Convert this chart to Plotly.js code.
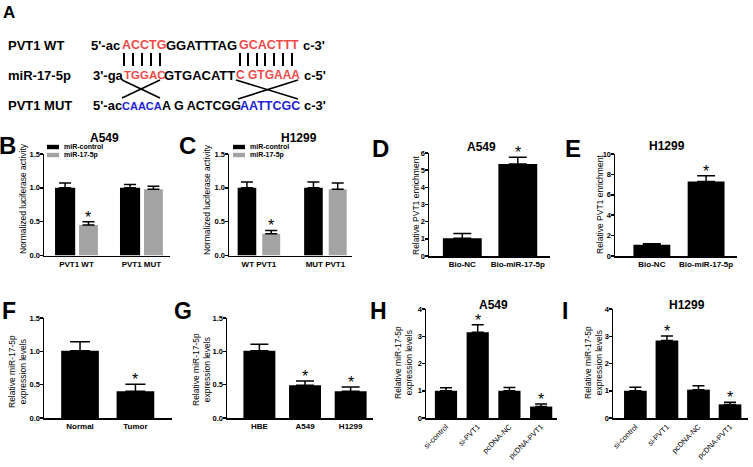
<!DOCTYPE html>
<html><head><meta charset="utf-8">
<script src="https://cdn.plot.ly/plotly-3.0.1.min.js"></script>
<style>html,body{margin:0;padding:0;background:#fff}</style>
</head><body><div id="chart" style="width:753px;height:467px"></div>
<script>
// ---------------- data ----------------
const lucSeries = ['miR-control', 'miR-17-5p'];
const bCats = ['PVT1 WT', 'PVT1 MUT'];
const bCtrl = [1.0, 1.0];   const bCtrlErr = [0.07, 0.05];
const bMir  = [0.45, 0.98]; const bMirErr  = [0.05, 0.045];
const bMirSig = [true, false];
const cCats = ['WT PVT1', 'MUT PVT1'];
const cCtrl = [1.0, 1.0];   const cCtrlErr = [0.085, 0.085];
const cMir  = [0.32, 0.98]; const cMirErr  = [0.05, 0.09];
const cMirSig = [true, false];
const dCats = ['Bio-NC', 'Bio-miR-17-5p']; const dVals = [1.03, 5.36]; const dErr = [0.28, 0.39]; const dSig = [false, true];
const eCats = ['Bio-NC', 'Bio-miR-17-5p']; const eVals = [1.1, 7.3];   const eErr = [0.1, 0.57];  const eSig = [false, true];
const fCats = ['Normal', 'Tumor']; const fVals = [1.01, 0.4]; const fErr = [0.135, 0.105]; const fSig = [false, true];
const gCats = ['HBE', 'A549', 'H1299']; const gVals = [1.01, 0.49, 0.4]; const gErr = [0.095, 0.065, 0.065]; const gSig = [false, true, true];
const hCats = ['si-control', 'si-PVT1', 'pcDNA-NC', 'pcDNA-PVT1'];
const hVals = [1.0, 3.15, 1.0, 0.42]; const hErr = [0.11, 0.27, 0.12, 0.09]; const hSig = [false, true, false, true];
const iCats = ['si-control', 'si-PVT1', 'pcDNA-NC', 'pcDNA-PVT1'];
const iVals = [1.0, 2.84, 1.04, 0.5]; const iErr = [0.13, 0.17, 0.14, 0.08]; const iSig = [false, true, false, true];

// panel A sequence rows: [text, color key]
const rowLabels = ['PVT1 WT', 'miR-17-5p', 'PVT1 MUT'];
const seqWT  = [["5'-ac", 'k'], ['ACCTG', 'r'], ['GGATTTAG', 'k'], ['GCACTTT', 'r'], ["c-3'", 'k']];
const seqMiR = [["3'-ga", 'k'], ['TGGAC', 'r'], ['GTGACATT', 'k'], ['C GTGAAA', 'r'], ["c-5'", 'k']];
const seqMUT = [["5'-ac", 'k'], ['CAACA', 'b'], ['A G ACTCGG', 'k'], ['AATTCGC', 'b'], ["c-3'", 'k']];

// ---------------- layout helpers ----------------
const W = 753, H = 467;
const px = x => x / W;
const py = y => 1 - y / H;
const FONT = 'Liberation Sans, Arial, sans-serif';
const BLACK = '#000000', GRAY = '#a3a3a3', RED = '#ef4b4b', BLUE = '#1f1fd6';
const colorOf = {k: BLACK, r: RED, b: BLUE};

const traces = [];
const layout = {
  width: W, height: H, margin: {l: 0, r: 0, t: 0, b: 0},
  paper_bgcolor: '#fff', plot_bgcolor: 'rgba(0,0,0,0)',
  showlegend: false, barmode: 'overlay',
  annotations: [], shapes: [], font: {family: FONT, color: BLACK}
};

function zeros(a) { return a.map(() => 0); }

function addPanel(n, cfg) {
  const xn = n === 1 ? 'x' : 'x' + n, yn = n === 1 ? 'y' : 'y' + n;
  const xk = n === 1 ? 'xaxis' : 'xaxis' + n, yk = n === 1 ? 'yaxis' : 'yaxis' + n;
  layout[xk] = {
    domain: [px(cfg.xd[0]), px(cfg.xd[1])], anchor: yn, type: 'category',
    range: cfg.xr, showline: true, linecolor: BLACK, linewidth: 1.5, ticks: '',
    showgrid: false, zeroline: false, fixedrange: true,
    tickangle: cfg.tickangle || 0,
    tickfont: {family: FONT, size: cfg.xfs || 8, color: BLACK, weight: cfg.xweight || 'bold'}
  };
  layout[yk] = {
    domain: [py(cfg.yd[1]), py(cfg.yd[0])], anchor: xn, range: cfg.yr,
    dtick: cfg.dtick, tick0: 0, tickformat: cfg.tf, showline: true, linecolor: BLACK, linewidth: 1.5,
    ticks: 'outside', ticklen: 3, tickwidth: 1.5, tickcolor: BLACK, showgrid: false, zeroline: false,
    ticklabelstandoff: -2,
    fixedrange: true, tickfont: {family: FONT, size: 7.5, color: BLACK, weight: 'bold'}
  };
  // y-axis title placed as rotated text beside the axis
  layout.annotations.push({xref: 'paper', yref: 'paper', x: px(cfg.yt[0]), y: py(cfg.yt[1]),
    text: cfg.ytitle, textangle: -90, showarrow: false, xanchor: 'center', yanchor: 'middle',
    font: {family: FONT, size: 8.5, color: BLACK}});
  cfg.series.forEach(s => {
    traces.push({
      type: 'bar', x: s.cats, y: s.vals, xaxis: xn, yaxis: yn, name: s.name,
      width: s.width, offset: s.offset,
      marker: {color: s.color, line: {width: 0}},
      error_y: {type: 'data', symmetric: false, array: s.err, arrayminus: zeros(s.err),
                color: BLACK, thickness: 1.5, width: cfg.capw || 6},
      hoverinfo: 'skip'
    });
    s.sig.forEach((on, i) => {
      if (!on) return;
      const off = (s.offset === undefined ? -s.width / 2 : s.offset) + s.width / 2;
      layout.annotations.push({xref: xn, yref: yn, x: i + off, y: s.vals[i] + s.err[i],
        text: '*', showarrow: false, yanchor: 'bottom', yshift: -6,
        font: {family: FONT, size: 16, color: BLACK}});
    });
  });
  if (cfg.title) {
    layout.annotations.push({xref: 'paper', yref: 'paper', x: px(cfg.title[1]), y: py(cfg.title[2]),
      text: '<b>' + cfg.title[0] + '</b>', showarrow: false, xanchor: 'center', yanchor: 'middle',
      font: {family: FONT, size: 12, color: BLACK}});
  }
}

// ---------------- panels ----------------
const lucTitle = 'Normalized luciferase activity';
const enrTitle = 'Relative PVT1 enrichment';
const expTitle = 'Relative miR-17-5p<br>expression levels';

addPanel(1, {xd: [44, 170], yd: [154, 255.5], xr: [-0.5, 1.44], yr: [0, 1.5], dtick: 0.5, tf: '.1f',
  ytitle: lucTitle, yt: [23, 199], title: ['A549', 105, 138], capw: 6,
  series: [
    {cats: bCats, vals: bCtrl, err: bCtrlErr, name: lucSeries[0], color: BLACK, width: 0.31, offset: -0.33, sig: [false, false]},
    {cats: bCats, vals: bMir, err: bMirErr, name: lucSeries[1], color: GRAY, width: 0.29, offset: 0.04, sig: bMirSig}
  ]});
addPanel(2, {xd: [229, 352], yd: [154, 255.5], xr: [-0.45, 1.4], yr: [0, 1.5], dtick: 0.5, tf: '.1f',
  ytitle: lucTitle, yt: [207, 199], title: ['H1299', 299, 138], capw: 6,
  series: [
    {cats: cCats, vals: cCtrl, err: cCtrlErr, name: lucSeries[0], color: BLACK, width: 0.28, offset: -0.32, sig: [false, false]},
    {cats: cCats, vals: cMir, err: cMirErr, name: lucSeries[1], color: GRAY, width: 0.27, offset: 0.05, sig: cMirSig}
  ]});
addPanel(3, {xd: [429, 550], yd: [153, 256], xr: [-0.6, 1.58], yr: [0, 6], dtick: 1, tf: 'd',
  ytitle: enrTitle, yt: [416, 205], title: ['A549', 481, 147], capw: 9,
  series: [{cats: dCats, vals: dVals, err: dErr, color: BLACK, width: 0.7, sig: dSig}]});
addPanel(4, {xd: [615, 737], yd: [154, 256], xr: [-0.68, 1.57], yr: [0, 10], dtick: 2, tf: 'd',
  ytitle: enrTitle, yt: [600, 205], title: ['H1299', 667, 146], capw: 9,
  series: [{cats: eCats, vals: eVals, err: eErr, color: BLACK, width: 0.68, sig: eSig}]});
addPanel(5, {xd: [44, 172], yd: [318, 418], xr: [-0.65, 1.66], yr: [0, 1.5], dtick: 0.5, tf: '.1f',
  ytitle: expTitle, yt: [17, 372], capw: 10,
  series: [{cats: fCats, vals: fVals, err: fErr, color: BLACK, width: 0.68, sig: fSig}]});
addPanel(6, {xd: [227, 373], yd: [318, 418], xr: [-0.71, 2.49], yr: [0, 1.5], dtick: 0.5, tf: '.1f',
  ytitle: expTitle, yt: [201, 370], capw: 9,
  series: [{cats: gCats, vals: gVals, err: gErr, color: BLACK, width: 0.7, sig: gSig}]});
addPanel(7, {xd: [426, 557], yd: [309, 418], xr: [-0.63, 3.5], yr: [0, 4], dtick: 1, tf: 'd',
  ytitle: expTitle, yt: [403, 363], title: ['A549', 493, 305], capw: 6, tickangle: -45, xfs: 7.5, xweight: 'normal',
  series: [{cats: hCats, vals: hVals, err: hErr, color: BLACK, width: 0.7, sig: hSig}]});
addPanel(8, {xd: [613, 748], yd: [309, 418], xr: [-0.71, 3.57], yr: [0, 4], dtick: 1, tf: 'd',
  ytitle: expTitle, yt: [593, 363], title: ['H1299', 687, 305], capw: 6, tickangle: -45, xfs: 7.5, xweight: 'normal',
  series: [{cats: iCats, vals: iVals, err: iErr, color: BLACK, width: 0.72, sig: iSig}]});

// ---------------- legends for B and C (compact) ----------------
function legend(x0, yRows) {
  [BLACK, GRAY].forEach((c, i) => {
    layout.shapes.push({type: 'rect', xref: 'paper', yref: 'paper', x0: px(x0), x1: px(x0 + 12),
      y0: py(yRows[i] + 2.2), y1: py(yRows[i] - 2.2), fillcolor: c, line: {width: 0}});
    layout.annotations.push({xref: 'paper', yref: 'paper', x: px(x0 + 15), y: py(yRows[i]),
      text: '<b>' + lucSeries[i] + '</b>', showarrow: false, xanchor: 'left', yanchor: 'middle',
      font: {family: FONT, size: 7, color: BLACK}});
  });
}
legend(47, [147, 155]);
legend(233, [147, 155]);

// ---------------- panel letters ----------------
const letters = [['A', 9, 13, 17], ['B', 8, 145, 24], ['C', 187, 145, 24], ['D', 380, 149, 24], ['E', 573, 149, 24],
                 ['F', 9, 311, 23], ['G', 183, 311, 23], ['H', 378, 311, 23], ['I', 565, 311, 23]];
letters.forEach(([t, x, y, s]) => layout.annotations.push({xref: 'paper', yref: 'paper', x: px(x), y: py(y),
  text: '<b>' + t + '</b>', showarrow: false, xanchor: 'center', yanchor: 'middle',
  font: {family: FONT, size: s, color: BLACK}}));

// ---------------- panel A: sequences ----------------
const rowY = [45, 75, 106];
const segX = [[90, 121, 165, 238, 302], [92, 123, 163, 235, 303], [92, 121, 161, 239, 303]];
const segS = [[13, 12.5, 13, 12.5, 13], [13, 11.5, 13, 12, 13], [13, 11, 12.5, 12.5, 13]];
[seqWT, seqMiR, seqMUT].forEach((row, r) => {
  layout.annotations.push({xref: 'paper', yref: 'paper', x: px(7), y: py(rowY[r]), text: '<b>' + rowLabels[r] + '</b>',
    showarrow: false, xanchor: 'left', yanchor: 'middle', borderpad: 0, font: {family: FONT, size: 13, color: BLACK}});
  row.forEach(([t, c], j) => layout.annotations.push({xref: 'paper', yref: 'paper', x: px(segX[r][j]), y: py(rowY[r]),
    text: '<b>' + t + '</b>', showarrow: false, xanchor: 'left', yanchor: 'middle', borderpad: 0,
    font: {family: FONT, size: segS[r][j], color: colorOf[c]}}));
});
// pairing lines
const pairX = [124, 133, 142, 151, 160, 240, 248, 257, 265, 274, 283, 292];
pairX.forEach(x => layout.shapes.push({type: 'line', xref: 'paper', yref: 'paper', x0: px(x), x1: px(x),
  y0: py(53), y1: py(66), line: {color: BLACK, width: 2}}));
const crossL = [[[122, 80], [160, 98]], [[160, 80], [122, 98]], [[236, 80], [298, 99]], [[298, 80], [238, 99]]];
crossL.forEach(([a, b]) => layout.shapes.push({type: 'line', xref: 'paper', yref: 'paper', x0: px(a[0]), y0: py(a[1]),
  x1: px(b[0]), y1: py(b[1]), line: {color: BLACK, width: 1.6}}));

Plotly.newPlot('chart', traces, layout, {displayModeBar: false, staticPlot: true});
</script></body></html>
